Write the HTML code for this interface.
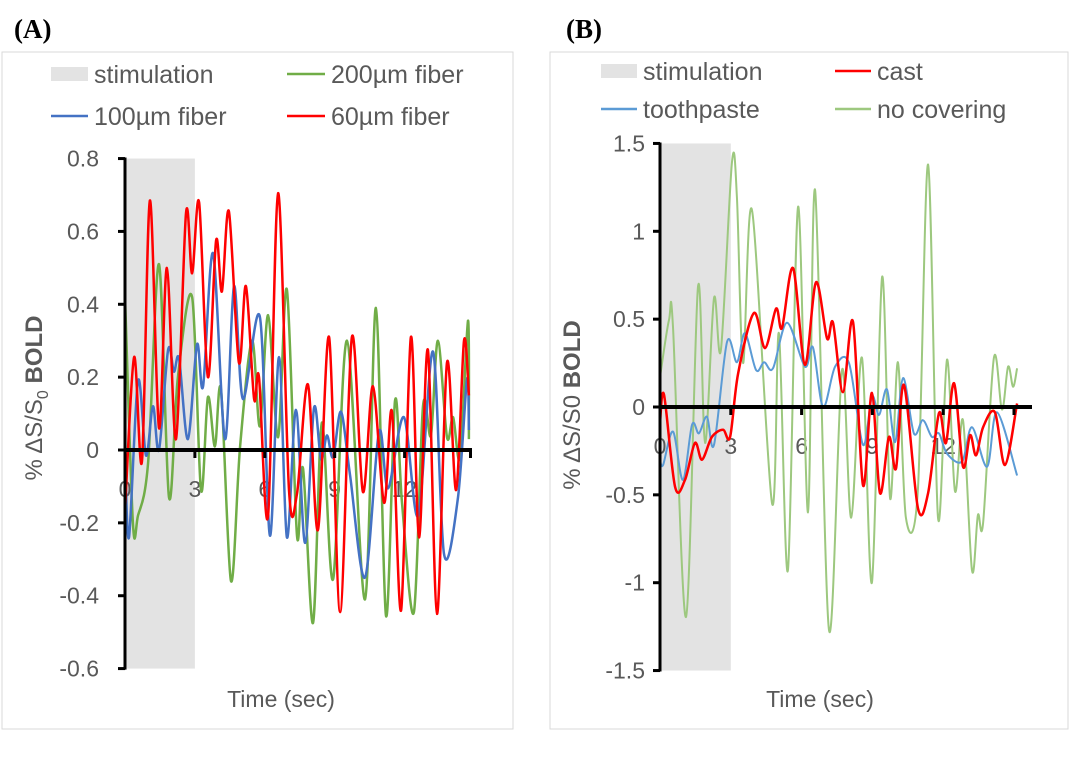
<!DOCTYPE html>
<html><head><meta charset="utf-8"><style>
body{margin:0;background:#fff;}
svg text{font-family:"Liberation Sans",sans-serif;}
</style></head><body>
<svg id="chart" width="1079" height="759" xmlns="http://www.w3.org/2000/svg">
<text x="14" y="38" font-weight="bold" font-size="27" fill="#000" style="font-family:'Liberation Serif',serif">(A)</text>
<text x="566" y="38" font-weight="bold" font-size="27" fill="#000" style="font-family:'Liberation Serif',serif">(B)</text>
<rect x="2" y="52" width="511" height="677" fill="none" stroke="#d9d9d9"/>
<rect x="550" y="52" width="518" height="677" fill="none" stroke="#d9d9d9"/>
<g id="gA"></g>
<g id="gB"></g>
</svg>
<script>
// Panel A data
const aRedT=[0,0.39,0.73,1.07,1.46,1.8,2.19,2.62,2.88,3.18,3.56,3.91,4.16,4.46,4.89,5.19,5.54,5.75,6.14,6.57,7.04,7.38,7.85,8.28,8.76,9.23,9.74,10.21,10.64,11.12,11.46,11.85,12.27,12.62,13.0,13.39,13.82,14.21,14.55,14.76];
const aRedV=[-0.165,0.255,-0.03,0.685,0.06,0.5,0.03,0.65,0.485,0.68,0.2,0.575,0.435,0.655,0.24,0.45,0.14,0.2,-0.18,0.705,-0.11,-0.12,0.18,-0.22,0.31,-0.445,0.31,-0.115,0.175,-0.145,0.105,-0.44,0.31,-0.24,0.275,-0.45,0.24,-0.11,0.3,0.15];
const aGreenT=[0,0.34,0.56,0.99,1.46,1.89,2.27,2.88,3.26,3.56,3.86,4.12,4.55,4.94,5.45,5.79,6.14,6.57,6.95,7.38,7.64,8.07,8.45,8.93,9.53,10.3,10.77,11.2,11.59,11.89,12.4,12.79,13.13,13.43,13.82,14.08,14.38,14.72,14.76];
const aGreenV=[0.42,-0.2,-0.18,-0.035,0.51,-0.13,0.2,0.42,-0.11,0.145,0.01,0.165,-0.36,0.01,0.3,0.065,0.37,0.035,0.44,-0.235,-0.05,-0.475,0.075,-0.355,0.3,-0.41,0.39,-0.455,0.135,-0.145,-0.445,0.12,0.04,0.3,0.035,0.09,-0.02,0.355,0.03];
const aBlueT=[0,0.17,0.56,0.9,1.2,1.46,1.85,2.1,2.32,2.7,3.09,3.35,3.78,4.29,4.68,5.06,5.79,6.22,6.61,6.95,7.34,7.73,8.11,8.41,8.67,8.93,9.27,9.66,10.3,10.9,11.29,11.97,12.58,13.22,13.69,14.29,14.68,14.76];
const aBlueV=[0,-0.24,0.19,-0.015,0.12,0,0.275,0.215,0.25,0.03,0.29,0.175,0.54,0.03,0.45,0.14,0.365,-0.235,0.255,-0.24,0.11,-0.255,0.115,-0.025,0.04,-0.02,0.105,-0.07,-0.35,0.05,-0.105,0.09,-0.18,0.27,-0.285,-0.13,0.195,0.055];
const aYTicks=[0.8,0.6,0.4,0.2,0,-0.2,-0.4,-0.6];
const aYLabels=["0.8","0.6","0.4","0.2","0","-0.2","-0.4","-0.6"];
const aXTicks=[0,3,6,9,12,15];
const aXLabels=["0","3","6","9","12",""];
// Panel B data
const bRedT=[0,0.17,0.64,1.06,1.48,1.78,2.2,2.67,2.97,3.31,3.98,4.45,4.92,5.17,5.64,6.14,6.61,7.08,7.33,7.75,8.18,8.6,8.98,9.32,9.7,10.0,10.34,10.93,11.36,11.82,12.12,12.46,12.84,13.14,13.39,13.69,14.19,14.62,15.13];
const bRedV=[-0.09,0.07,-0.455,-0.415,-0.205,-0.3,-0.17,-0.13,-0.17,0.19,0.535,0.335,0.56,0.45,0.79,0.24,0.71,0.39,0.48,0.085,0.485,-0.445,0.08,-0.49,-0.17,-0.35,0.125,-0.575,-0.49,-0.035,-0.205,0.135,-0.34,-0.16,-0.275,-0.115,-0.03,-0.33,0.02];
const bBlueT=[0,0.13,0.55,0.97,1.36,1.65,1.99,2.29,2.84,3.26,3.6,4.07,4.41,4.79,5.38,6.14,6.48,6.91,7.42,8.01,8.6,8.98,9.28,9.62,9.96,10.3,10.76,11.14,11.52,11.82,12.16,12.8,13.22,13.86,14.28,15.13];
const bBlueV=[-0.3,-0.33,-0.14,-0.415,-0.1,-0.15,-0.055,-0.215,0.37,0.255,0.42,0.21,0.255,0.22,0.48,0.23,0.34,0,0.23,0.25,-0.215,0.06,-0.045,0.1,-0.2,0.165,-0.15,-0.075,-0.17,-0.15,-0.265,-0.31,-0.115,-0.34,-0.03,-0.39];
const bGreenT=[0,0.38,0.55,1.1,1.61,1.91,2.29,2.58,3.05,3.26,3.52,3.9,4.75,5.04,5.42,5.85,6.27,6.57,7.16,7.71,8.1,8.56,8.98,9.41,9.75,10.08,10.42,10.93,11.36,11.78,12.16,12.5,12.84,13.22,13.47,13.69,14.15,14.49,14.75,14.96,15.13];
const bGreenV=[0.17,0.495,0.455,-1.195,0.685,-0.205,0.62,0.325,1.395,1.195,0.25,1.12,-0.55,0.42,-0.93,1.14,-0.6,1.235,-1.27,0.21,-0.63,0.28,-1.0,0.74,-0.52,0.255,-0.63,-0.47,1.38,-0.63,0.27,-0.48,-0.075,-0.93,-0.615,-0.66,0.28,-0.015,0.23,0.115,0.22];
const bYTicks=[1.5,1,0.5,0,-0.5,-1,-1.5];
const bYLabels=["1.5","1","0.5","0","-0.5","-1","-1.5"];
const bXTicks=[0,3,6,9,12,15];
const bXLabels=["0","3","6","9","12",""];

const NS="http://www.w3.org/2000/svg";
function mk(parent,tag,attrs,txt){const e=document.createElementNS(NS,tag);for(const k in attrs)e.setAttribute(k,attrs[k]);if(txt!==undefined)e.textContent=txt;parent.appendChild(e);return e;}
function smooth(p){
  let d='M'+p[0][0].toFixed(1)+','+p[0][1].toFixed(1);
  for(let i=0;i<p.length-1;i++){
    const p0=p[i-1]||p[i],p1=p[i],p2=p[i+1],p3=p[i+2]||p2;
    const k=0.16;
    const c1=[p1[0]+(p2[0]-p0[0])*k,p1[1]+(p2[1]-p0[1])*k];
    const c2=[p2[0]-(p3[0]-p1[0])*k,p2[1]-(p3[1]-p1[1])*k];
    d+=' C'+c1.map(n=>n.toFixed(1)).join(',')+' '+c2.map(n=>n.toFixed(1)).join(',')+' '+p2[0].toFixed(1)+','+p2[1].toFixed(1);
  }
  return d;
}

function panel(g,cfg){
  const xs=t=>cfg.x0+t*cfg.px;
  const ys=v=>cfg.yZero-v*cfg.py;
  const band=mk(g,'rect',{x:xs(0),y:ys(cfg.yMax),width:xs(3)-xs(0),height:ys(cfg.yMin)-ys(cfg.yMax),fill:'#e3e3e3'});
  
  
  cfg.yTicks.forEach((v,i)=>{
    const tk=mk(g,'line',{x1:xs(0)-7,x2:xs(0),y1:ys(v),y2:ys(v),stroke:'#000','stroke-width':3});
    
    
    const lb=mk(g,'text',{x:cfg.yLabX,y:ys(v)+8,'text-anchor':'end','font-size':23,fill:'#595959'},cfg.yLabels[i]);
    
    
  });
  cfg.xTicks.forEach((t,i)=>{
    const lb=mk(g,'text',{x:xs(t),y:ys(0)+47,'text-anchor':'middle','font-size':23,fill:'#595959'},cfg.xLabels[i]);
    
    
  });
  cfg.series.forEach(s=>{
    const pts=s.t.map((t,i)=>[xs(t),ys(s.v[i])]);
    const pl=mk(g,'path',{d:smooth(pts),fill:'none',stroke:s.c,'stroke-width':s.w,'stroke-linejoin':'round'});
    
    
  });
  const ya=mk(g,'line',{x1:xs(0),x2:xs(0),y1:ys(cfg.yMax)-1,y2:ys(cfg.yMin)+1,stroke:'#000','stroke-width':3});
  
  
  const xa=mk(g,'line',{x1:xs(0),x2:cfg.xEnd,y1:ys(0),y2:ys(0),stroke:'#000','stroke-width':4});
  
  
  cfg.xTicks.forEach(t=>{
    const tk=mk(g,'line',{x1:Math.min(xs(t),cfg.xEnd-1.5),x2:Math.min(xs(t),cfg.xEnd-1.5),y1:ys(0),y2:ys(0)+8,stroke:'#000','stroke-width':3});
    
    
  });
  const xt=mk(g,'text',{x:cfg.xTitleX,y:707,'text-anchor':'middle','font-size':23,fill:'#595959'},'Time (sec)');
  
  
  const yt=mk(g,'text',{transform:`translate(${cfg.yTitleX},${cfg.yTitleY}) rotate(-90)`,'text-anchor':'middle','font-size':24,fill:'#595959'});
  
  
  mk(yt,'tspan',{},'% ΔS/S');
  if(cfg.sub){mk(yt,'tspan',{'font-size':16,dy:6},'0');mk(yt,'tspan',{dy:-6},' ');}else{mk(yt,'tspan',{},'0 ');}
  mk(yt,'tspan',{'font-weight':'bold'},'BOLD');
  cfg.legend.forEach(l=>{
    if(l.rect){const r=mk(g,'rect',{x:l.x,y:l.y-7,width:l.w,height:14,fill:'#e3e3e3'});
      
      }
    else{const ln=mk(g,'line',{x1:l.x,x2:l.x+l.w,y1:l.y,y2:l.y,stroke:l.c,'stroke-width':2.5});
      
      }
    const tx=mk(g,'text',{x:l.x+l.w+6,y:l.y+9,'font-size':25,fill:'#595959'},l.label);
    
    
  });
}

panel(document.getElementById('gA'),{x0:125,px:23.3,yZero:450,py:364.3,yMax:0.8,yMin:-0.6,xEnd:472,yLabX:99,
  yTicks:aYTicks,yLabels:aYLabels,xTicks:aXTicks,xLabels:aXLabels,xTitleX:281,yTitleX:42,yTitleY:398,sub:true,
  series:[{name:'series-200um-fiber',t:aGreenT,v:aGreenV,c:'#70ad47',w:2.5},{name:'series-100um-fiber',t:aBlueT,v:aBlueV,c:'#4472c4',w:2.5},{name:'series-60um-fiber',t:aRedT,v:aRedV,c:'#ff0000',w:2.5}],
  legend:[{rect:1,x:51,y:74,w:37,label:'stimulation'},{x:287,y:74,w:38,c:'#70ad47',label:'200µm fiber'},{x:51,y:116,w:37,c:'#4472c4',label:'100µm fiber'},{x:287,y:116,w:38,c:'#ff0000',label:'60µm fiber'}]});

panel(document.getElementById('gB'),{x0:660,px:23.6,yZero:407,py:175.7,yMax:1.5,yMin:-1.5,xEnd:1032,yLabX:645,
  yTicks:bYTicks,yLabels:bYLabels,xTicks:bXTicks,xLabels:bXLabels,xTitleX:820,yTitleX:580,yTitleY:405,sub:false,
  series:[{name:'series-no-covering',t:bGreenT,v:bGreenV,c:'#9dc87f',w:2},{name:'series-toothpaste',t:bBlueT,v:bBlueV,c:'#5b9bd5',w:2},{name:'series-cast',t:bRedT,v:bRedV,c:'#ff0000',w:2.5}],
  legend:[{rect:1,x:601,y:71,w:36,label:'stimulation'},{x:835,y:71,w:36,c:'#ff0000',label:'cast'},{x:601,y:109,w:36,c:'#5b9bd5',label:'toothpaste'},{x:835,y:109,w:36,c:'#9dc87f',label:'no covering'}]});
</script>
</body></html>
